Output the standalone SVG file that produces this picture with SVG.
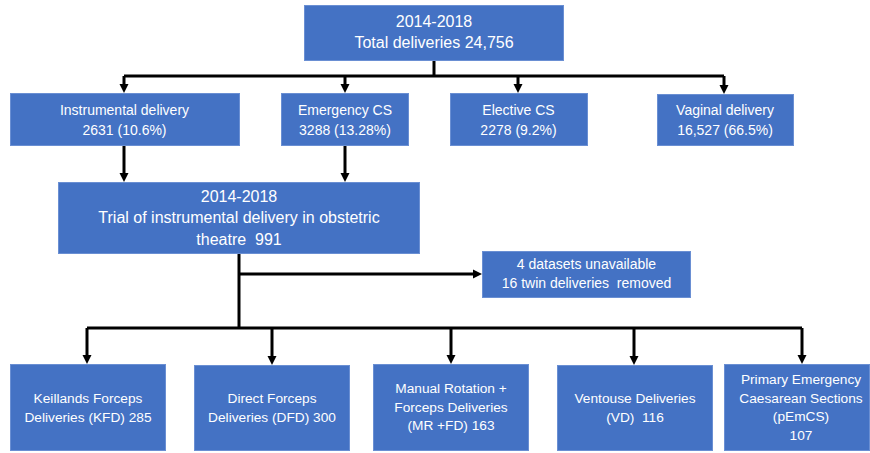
<svg xmlns="http://www.w3.org/2000/svg" width="870" height="453" viewBox="0 0 870 453">
<defs>
<style>
.box{fill:#4472C4;stroke:#6A8FD3;stroke-width:1}
.t{font-family:"Liberation Sans",Arial,sans-serif;fill:#ffffff;text-anchor:middle;white-space:pre}
.big{font-size:16px}
.mid{font-size:14px}
.sm{font-size:13.7px}
.ln{fill:none;stroke:#000000;stroke-width:3;stroke-linejoin:miter;stroke-linecap:butt}
</style>
<marker id="ah" markerUnits="userSpaceOnUse" viewBox="0 -5 9 10" refX="0" refY="0" markerWidth="9" markerHeight="10" orient="auto" overflow="visible">
<path d="M0,-4.5 L9,0 L0,4.5 Z" fill="#000000"/>
</marker>
</defs>
<rect width="870" height="453" fill="#ffffff"/>

<g id="connectors">
<path class="ln" d="M434,60 V76"/>
<path class="ln" d="M124,76 H724"/>
<path class="ln" d="M124,76 V84" marker-end="url(#ah)"/>
<path class="ln" d="M345,76 V84" marker-end="url(#ah)"/>
<path class="ln" d="M518,76 V84" marker-end="url(#ah)"/>
<path class="ln" d="M724,76 V85" marker-end="url(#ah)"/>
<path class="ln" d="M124,145 V173" marker-end="url(#ah)"/>
<path class="ln" d="M345,145 V173" marker-end="url(#ah)"/>
<path class="ln" d="M239,253 V328"/>
<path class="ln" d="M239,274 H473" marker-end="url(#ah)"/>
<path class="ln" d="M87,328 H802"/>
<path class="ln" d="M87,328 V355" marker-end="url(#ah)"/>
<path class="ln" d="M272,328 V356" marker-end="url(#ah)"/>
<path class="ln" d="M451,328 V355" marker-end="url(#ah)"/>
<path class="ln" d="M634,328 V356" marker-end="url(#ah)"/>
<path class="ln" d="M802,328 V355" marker-end="url(#ah)"/>
</g>

<g id="total">
<rect class="box" x="304.5" y="5.5" width="259" height="55"/>
<text class="t big" x="434" y="27">2014-2018</text>
<text class="t big" x="434" y="48">Total deliveries 24,756</text>
</g>

<g id="instrumental">
<rect class="box" x="10.5" y="93.5" width="229" height="52"/>
<text class="t mid" x="124.5" y="115">Instrumental delivery</text>
<text class="t mid" x="124.5" y="135">2631 (10.6%)</text>
</g>

<g id="emergency">
<rect class="box" x="281.5" y="93.5" width="127" height="52"/>
<text class="t mid" x="345" y="115">Emergency CS</text>
<text class="t mid" x="345" y="135">3288 (13.28%)</text>
</g>

<g id="elective">
<rect class="box" x="450.5" y="93.5" width="137" height="52"/>
<text class="t mid" x="518.5" y="115">Elective CS</text>
<text class="t mid" x="518.5" y="135">2278 (9.2%)</text>
</g>

<g id="vaginal">
<rect class="box" x="657.5" y="94.5" width="136" height="51"/>
<text class="t mid" x="725" y="115">Vaginal delivery</text>
<text class="t mid" x="725" y="135">16,527 (66.5%)</text>
</g>

<g id="trial">
<rect class="box" x="58.5" y="182.5" width="361" height="71"/>
<text class="t big" x="239" y="202">2014-2018</text>
<text class="t big" x="239" y="223">Trial of instrumental delivery in obstetric</text>
<text class="t big" x="239" y="245">theatre  991</text>
</g>

<g id="excluded">
<rect class="box" x="482.5" y="251.5" width="208" height="46"/>
<text class="t mid" x="586.5" y="269">4 datasets unavailable</text>
<text class="t mid" x="586.5" y="288">16 twin deliveries  removed</text>
</g>

<g id="kfd">
<rect class="box" x="10.5" y="364.5" width="155" height="86"/>
<text class="t sm" x="88" y="403">Keillands Forceps</text>
<text class="t sm" x="88" y="422">Deliveries (KFD) 285</text>
</g>

<g id="dfd">
<rect class="box" x="194.5" y="365.5" width="155" height="85"/>
<text class="t sm" x="272" y="403">Direct Forceps</text>
<text class="t sm" x="272" y="422">Deliveries (DFD) 300</text>
</g>

<g id="mrfd">
<rect class="box" x="373.5" y="364.5" width="155" height="86"/>
<text class="t sm" x="451" y="393">Manual Rotation +</text>
<text class="t sm" x="451" y="412">Forceps Deliveries</text>
<text class="t sm" x="451" y="430">(MR +FD) 163</text>
</g>

<g id="vd">
<rect class="box" x="557.5" y="365.5" width="155" height="85"/>
<text class="t sm" x="635" y="403">Ventouse Deliveries</text>
<text class="t sm" x="635" y="422">(VD)  116</text>
</g>

<g id="pemcs">
<rect class="box" x="724.5" y="364.5" width="145" height="86"/>
<text class="t sm" x="801" y="384">Primary Emergency</text>
<text class="t sm" x="801" y="403">Caesarean Sections</text>
<text class="t sm" x="801" y="421">(pEmCS)</text>
<text class="t sm" x="801" y="440">107</text>
</g>
</svg>
